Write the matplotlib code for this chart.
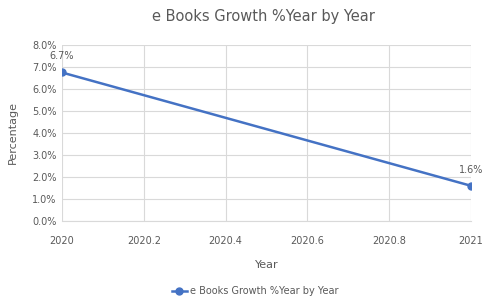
import matplotlib.pyplot as plt
from matplotlib.ticker import PercentFormatter

# data
years = [2020, 2021]
growth = [6.75, 1.6]
labels = ["6.7%", "1.6%"]
xticks = [2020, 2020.2, 2020.4, 2020.6, 2020.8, 2021]
xticklabels = ["2020", "2020.2", "2020.4", "2020.6", "2020.8", "2021"]

blue = "#4472C4"
grey = "#595959"

fig = plt.figure(figsize=(4.86, 2.96), dpi=100)
ax = fig.add_axes([62 / 486, 1 - 221 / 296, (471 - 62) / 486, (221 - 45) / 296])

ax.plot(years, growth, color=blue, lw=1.8, marker="o", ms=5, label="e Books Growth %Year by Year")
for x, y, t in zip(years, growth, labels):
    ax.annotate(t, (x, y), xytext=(0, 8), textcoords="offset points",
                ha="center", va="bottom", fontsize=7, color=grey)

ax.set_xlim(2020, 2021)
ax.set_ylim(0, 8)
ax.set_xticks(xticks)
ax.set_xticklabels(xticklabels)
ax.set_yticks(range(0, 9))
ax.yaxis.set_major_formatter(PercentFormatter(decimals=1))
ax.grid(True, color="#D9D9D9", lw=0.8)
ax.tick_params(length=0, labelsize=7, colors=grey, pad=4)
ax.tick_params(axis="x", pad=11)
for s in ax.spines.values():
    s.set_visible(False)
ax.spines["bottom"].set_visible(True)
ax.spines["bottom"].set_color("#D9D9D9")

ax.set_xlabel("Year", fontsize=8, color=grey, labelpad=10)
ax.set_ylabel("Percentage", fontsize=8, color=grey, labelpad=10)
fig.text(263 / 486, 1 - 17 / 296, "e Books Growth %Year by Year", ha="center", va="center",
         fontsize=10.5, color=grey)

fig.legend(loc="center", bbox_to_anchor=(255 / 486, 1 - 291 / 296), frameon=False,
           fontsize=7, labelcolor=grey, handlelength=1.5, handletextpad=0.3)

fig.savefig("out.png", dpi=100)
